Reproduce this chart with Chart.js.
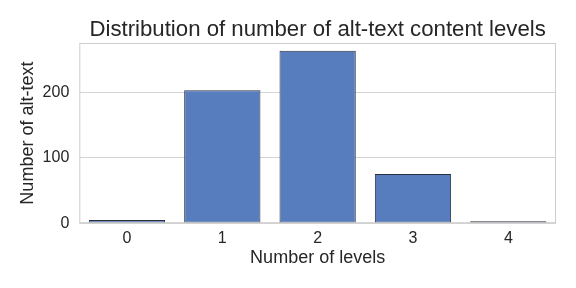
<!DOCTYPE html>
<html>
<head>
<meta charset="utf-8">
<script src="https://cdn.jsdelivr.net/npm/chart.js@4/dist/chart.umd.min.js"></script>
<style>
  html, body { margin: 0; padding: 0; background: #fff; }
  #wrap { width: 576px; height: 288px; }
</style>
</head>
<body>
<div id="wrap"><canvas id="myChart" width="576" height="288"></canvas></div>
<script>
const levels = ['0', '1', '2', '3', '4'];
const counts = [5, 203, 263, 75, 3];
const yTicks = [0, 100, 200];
const titleText = 'Distribution of number of alt-text content levels';

const font = 'Liberation Sans, Arial, sans-serif';
const textColor = '#262626';

// frame around the plot area + title centred over the plot (like matplotlib)
const frame = {
    id: 'frame',
    afterDraw: function(chart) {
        const a = chart.chartArea;
        const ctx = chart.ctx;
        ctx.save();
        ctx.strokeStyle = '#cccccc';
        ctx.lineWidth = 1;
        ctx.strokeRect(a.left + 0.5, a.top + 0.5, a.right - a.left - 1, a.bottom - a.top - 1);

        ctx.fillStyle = textColor;
        ctx.font = '22.2px ' + font;
        ctx.textAlign = 'center';
        ctx.textBaseline = 'alphabetic';
        ctx.fillText(titleText, (a.left + a.right) / 2, 36);
        ctx.restore();
    }
};

new Chart(document.getElementById('myChart').getContext('2d'), {
    type: 'bar',
    data: {
        labels: levels,
        datasets: [{
            data: counts,
            backgroundColor: '#587dbf',
            borderColor: '#2b303c',
            borderWidth: 1,
            borderSkipped: false,
            barPercentage: 0.8,
            categoryPercentage: 1.0
        }]
    },
    options: {
        responsive: false,
        animation: false,
        layout: { padding: { left: 17, right: 20, top: 43, bottom: 19 } },
        plugins: {
            legend: { display: false },
            tooltip: { enabled: false },
            title: { display: false }
        },
        scales: {
            x: {
                grid: { display: false, drawTicks: false },
                border: { display: false },
                ticks: { color: textColor, font: { family: font, size: 16 }, padding: 6 },
                title: {
                    display: true,
                    text: 'Number of levels',
                    color: textColor,
                    font: { family: font, size: 18 },
                    padding: { top: -7, bottom: 0 }
                }
            },
            y: {
                min: 0,
                max: 275,
                afterBuildTicks: function(scale) {
                    scale.ticks = yTicks.map(v => ({ value: v }));
                },
                grid: { color: '#d4d4d4', drawTicks: false },
                border: { display: false },
                ticks: { color: textColor, font: { family: font, size: 16 }, padding: 10 },
                title: {
                    display: true,
                    text: 'Number of alt-text',
                    color: textColor,
                    font: { family: font, size: 18 },
                    padding: { top: 0, bottom: -6 }
                }
            }
        }
    },
    plugins: [frame]
});
</script>
</body>
</html>
